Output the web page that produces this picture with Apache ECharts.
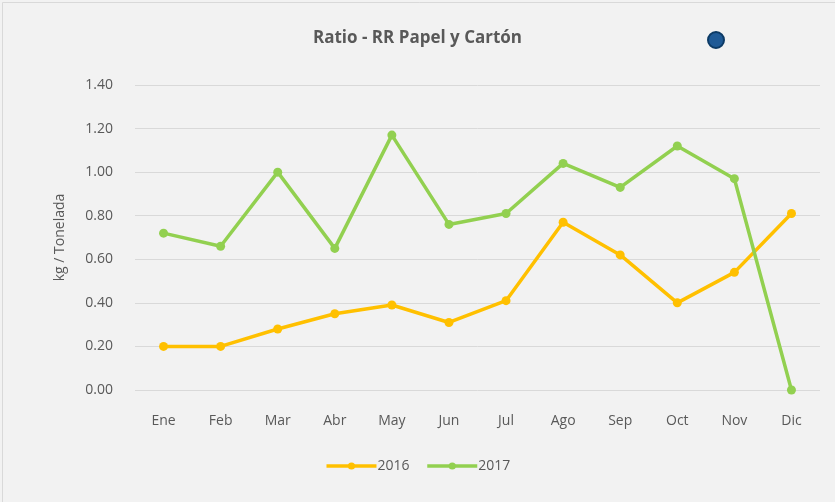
<!DOCTYPE html>
<html><head><meta charset="utf-8">
<script src="https://cdn.jsdelivr.net/npm/echarts@6/dist/echarts.min.js"></script>
<style>html,body{margin:0;padding:0;background:#fff}#c{width:835px;height:502px}</style>
</head><body><div id="c"></div>
<script>
const months = ['Ene','Feb','Mar','Abr','May','Jun','Jul','Ago','Sep','Oct','Nov','Dic'];
const s2016 = [0.20,0.20,0.28,0.35,0.39,0.31,0.41,0.77,0.62,0.40,0.54,0.81];
const s2017 = [0.72,0.66,1.00,0.65,1.17,0.76,0.81,1.04,0.93,1.12,0.97,0.00];
const yTicks = {min:0, max:1.4, interval:0.2};
const font = 'Open Sans';
const chart = echarts.init(document.getElementById('c'));
chart.setOption({
  backgroundColor:'#f2f2f2',
  animation:false,
  textStyle:{fontFamily:font},
  title:{text:'Ratio - RR Papel y Cartón', left:'center', top:25,
    textStyle:{fontFamily:font, fontSize:17, fontWeight:'bold', color:'#595959'}},
  grid:{left:135, right:15, top:85, bottom:112},
  legend:{bottom:24, left:'center', itemWidth:50, itemHeight:9, itemGap:16,
    lineStyle:{width:3.5},
    textStyle:{fontFamily:font, fontSize:14, color:'#595959', padding:[0,0,0,-4]},
    data:['2016','2017']},
  xAxis:{type:'category', data:months, boundaryGap:true,
    axisLine:{show:false}, axisTick:{show:false},
    axisLabel:{color:'#595959', fontSize:14, margin:24, fontFamily:font}},
  yAxis:{type:'value', min:yTicks.min, max:yTicks.max, interval:yTicks.interval,
    name:'kg / Tonelada', nameLocation:'middle', nameGap:68, nameRotate:90,
    nameTextStyle:{color:'#595959', fontSize:14, fontFamily:font},
    axisLine:{show:false}, axisTick:{show:false},
    axisLabel:{color:'#595959', fontSize:14, margin:22, fontFamily:font, formatter:v=>v.toFixed(2)},
    splitLine:{lineStyle:{color:'#d9d9d9', width:1}}},
  series:[
    {name:'2016', type:'line', data:s2016, color:'#ffc000', symbol:'circle', symbolSize:9,
      lineStyle:{width:3.5}},
    {name:'2017', type:'line', data:s2017, color:'#92d050', symbol:'circle', symbolSize:9,
      lineStyle:{width:3.5}}
  ],
  graphic:[
    {type:'rect', left:0, top:0, shape:{width:834, height:501}, style:{fill:'none', stroke:'#d9d9d9', lineWidth:1}},
    {type:'circle', shape:{cx:716, cy:40, r:8}, style:{fill:'#1f5a96', stroke:'#0d3b66', lineWidth:2}}
  ]
});
</script></body></html>
